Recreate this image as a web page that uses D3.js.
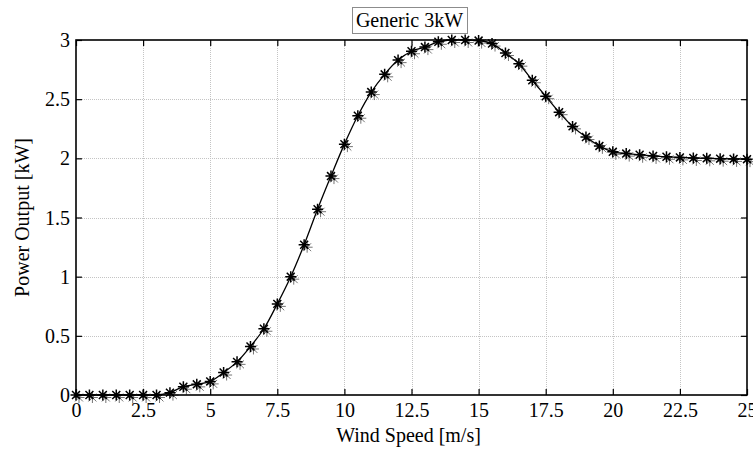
<!DOCTYPE html>
<html>
<head>
<meta charset="utf-8">
<script src="https://cdn.jsdelivr.net/npm/d3@7"></script>
<style>
  html, body { margin: 0; padding: 0; background: #fff; }
  svg { display: block; }
  text { font-family: "Liberation Serif", "Times New Roman", serif; fill: #000; }
</style>
</head>
<body>
<svg id="chart" width="753" height="449"></svg>
<script>
// Power curve of a generic 3 kW wind turbine, sampled every 0.5 m/s
const windSpeed = [0, 0.5, 1, 1.5, 2, 2.5, 3, 3.5, 4, 4.5, 5, 5.5, 6, 6.5, 7, 7.5, 8, 8.5, 9, 9.5,
  10, 10.5, 11, 11.5, 12, 12.5, 13, 13.5, 14, 14.5, 15, 15.5, 16, 16.5, 17, 17.5, 18, 18.5, 19, 19.5,
  20, 20.5, 21, 21.5, 22, 22.5, 23, 23.5, 24, 24.5, 25];
const powerKW = [0, 0, 0, 0, 0, 0, 0, 0.02, 0.07, 0.09, 0.115, 0.19, 0.28, 0.41, 0.56, 0.77, 1.0, 1.27, 1.57, 1.85,
  2.12, 2.36, 2.56, 2.71, 2.83, 2.905, 2.94, 2.985, 3.0, 3.0, 2.995, 2.97, 2.89, 2.80, 2.66, 2.525, 2.39, 2.27, 2.18, 2.105,
  2.055, 2.04, 2.03, 2.02, 2.013, 2.008, 2.003, 2.0, 1.997, 1.995, 1.993];

const xTicks = [0, 2.5, 5, 7.5, 10, 12.5, 15, 17.5, 20, 22.5, 25];
const xTickLabels = ["0", "2.5", "5", "7.5", "10", "12.5", "15", "17.5", "20", "22.5", "25"];
const yTicks = [0, 0.5, 1, 1.5, 2, 2.5, 3];
const yTickLabels = ["0", "0.5", "1", "1.5", "2", "2.5", "3"];

const titleText = "Generic 3kW";
const xLabelText = "Wind Speed [m/s]";
const yLabelText = "Power Output [kW]";

const svg = d3.select("#chart");
const plot = { left: 76, right: 747, top: 40, bottom: 395 };
const fontSize = 20;

const x = d3.scaleLinear().domain([0, 25]).range([plot.left, plot.right]);
const y = d3.scaleLinear().domain([0, 3]).range([plot.bottom, plot.top]);

// dotted grid
const grid = svg.append("g").attr("stroke", "#c4c4c4").attr("stroke-width", 1)
  .attr("stroke-dasharray", "1,1");
grid.selectAll("line.gx").data(xTicks.slice(1, -1)).join("line")
  .attr("class", "gx")
  .attr("x1", d => Math.round(x(d)) + 0.5).attr("x2", d => Math.round(x(d)) + 0.5)
  .attr("y1", plot.top).attr("y2", plot.bottom);
grid.selectAll("line.gy").data(yTicks.slice(1, -1)).join("line")
  .attr("class", "gy")
  .attr("y1", d => Math.round(y(d)) + 0.5).attr("y2", d => Math.round(y(d)) + 0.5)
  .attr("x1", plot.left).attr("x2", plot.right);

// axes with inward ticks on all four sides
const tickLen = 6;
const fmtX = (d, i) => xTickLabels[i];
const fmtY = (d, i) => yTickLabels[i];

const gBottom = svg.append("g").attr("transform", `translate(0,${plot.bottom})`)
  .call(d3.axisBottom(x).tickValues(xTicks).tickFormat(fmtX)
    .tickSizeInner(-tickLen).tickSizeOuter(0).tickPadding(8));
const gLeft = svg.append("g").attr("transform", `translate(${plot.left},0)`)
  .call(d3.axisLeft(y).tickValues(yTicks).tickFormat(fmtY)
    .tickSizeInner(-tickLen).tickSizeOuter(0).tickPadding(6));
const gTop = svg.append("g").attr("transform", `translate(0,${plot.top})`)
  .call(d3.axisTop(x).tickValues(xTicks).tickFormat("")
    .tickSizeInner(-tickLen).tickSizeOuter(0));
const gRight = svg.append("g").attr("transform", `translate(${plot.right},0)`)
  .call(d3.axisRight(y).tickValues(yTicks).tickFormat("")
    .tickSizeInner(-tickLen).tickSizeOuter(0));

[gBottom, gLeft, gTop, gRight].forEach(g => {
  g.select(".domain").remove();
  g.selectAll(".tick line").attr("stroke", "#000").attr("stroke-width", 1.2);
  g.selectAll(".tick text").attr("font-size", fontSize)
    .attr("font-family", "'Liberation Serif', 'Times New Roman', serif").attr("fill", "#000");
});
gLeft.selectAll(".tick text").attr("dy", "0.33em");

// axes box
svg.append("rect")
  .attr("x", plot.left).attr("y", plot.top)
  .attr("width", plot.right - plot.left).attr("height", plot.bottom - plot.top)
  .attr("fill", "none").attr("stroke", "#000").attr("stroke-width", 1.6);

// power curve
const pts = windSpeed.map((w, i) => [w, powerKW[i]]);
svg.append("path")
  .datum(pts)
  .attr("fill", "none").attr("stroke", "#000").attr("stroke-width", 1.3)
  .attr("d", d3.line().x(d => x(d[0])).y(d => y(d[1])).curve(d3.curveCatmullRom.alpha(0.5)));

// asterisk markers
const r = 5.5;
const star = `M${-r},0L${r},0M0,${-r}L0,${r}` +
  `M${-r * 0.72},${-r * 0.72}L${r * 0.72},${r * 0.72}M${-r * 0.72},${r * 0.72}L${r * 0.72},${-r * 0.72}`;
const marks = svg.append("g");
marks.selectAll("path.ghost").data(pts).join("path")
  .attr("class", "ghost")
  .attr("transform", d => `translate(${x(d[0]) + 3},${y(d[1]) + 2.5})`)
  .attr("d", star).attr("fill", "none").attr("stroke", "#000")
  .attr("stroke-opacity", 0.55).attr("stroke-width", 1);
marks.selectAll("path.star").data(pts).join("path")
  .attr("class", "star")
  .attr("transform", d => `translate(${x(d[0])},${y(d[1])})`)
  .attr("d", star).attr("fill", "none").attr("stroke", "#000").attr("stroke-width", 1.5);

// title in a framed box
const titleG = svg.append("g");
const titleBox = titleG.append("rect");
const title = titleG.append("text")
  .attr("x", (plot.left + plot.right) / 2 - 2).attr("y", 27)
  .attr("text-anchor", "middle").attr("font-size", fontSize)
  .text(titleText);
const tb = title.node().getBBox();
titleBox
  .attr("x", Math.round(tb.x - 4) + 0.5).attr("y", 7.5)
  .attr("width", Math.round(tb.width + 8)).attr("height", 26)
  .attr("fill", "#fff").attr("stroke", "#8c8c8c").attr("stroke-width", 1);

// axis labels
svg.append("text")
  .attr("x", (plot.left + plot.right) / 2 - 3).attr("y", 442)
  .attr("text-anchor", "middle").attr("font-size", fontSize)
  .text(xLabelText);
svg.append("text")
  .attr("transform", `translate(29,${(plot.top + plot.bottom) / 2}) rotate(-90)`)
  .attr("text-anchor", "middle").attr("font-size", fontSize)
  .text(yLabelText);
</script>
</body>
</html>
